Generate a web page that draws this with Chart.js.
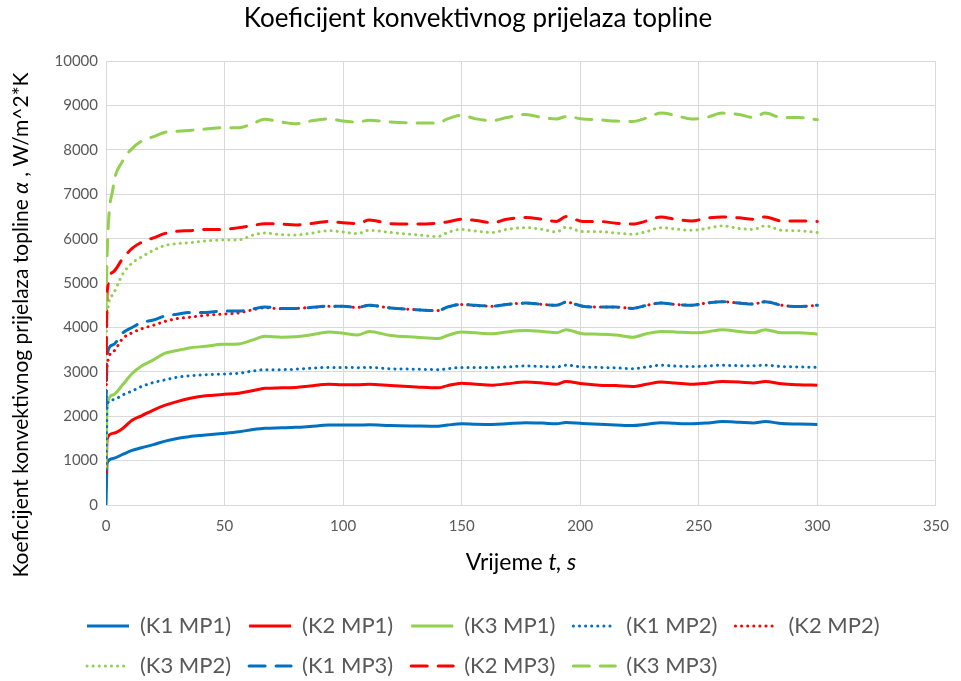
<!DOCTYPE html>
<html>
<head>
<meta charset="utf-8">
<script src="https://cdn.jsdelivr.net/npm/chart.js@4.4.0/dist/chart.umd.min.js"></script>
<style>
  body { margin: 0; background: #fff; }
  #wrap { width: 961px; height: 681px; }
</style>
</head>
<body>
<div id="wrap"><canvas id="alphaChart"></canvas></div>
<script>
// time, s
const time = [0, 0.5, 3, 7, 11, 15, 20, 25, 30, 35, 42, 49, 56, 62, 67, 74, 80, 86, 94, 100,
  106, 111, 120, 131, 140, 144, 150, 156, 163, 169, 177, 184, 190, 194, 201, 208, 215, 222, 228, 234,
  240, 247, 253, 260, 267, 273, 278, 285, 292, 300];

// alpha, W/m^2*K
const k1mp1 = [0, 950, 1050, 1140, 1230, 1290, 1360, 1440, 1500, 1540, 1575, 1610, 1650, 1700, 1730, 1740, 1750, 1770, 1800, 1800,
  1800, 1810, 1790, 1780, 1775, 1800, 1830, 1820, 1815, 1830, 1855, 1845, 1830, 1860, 1835, 1820, 1805, 1790, 1820, 1855,
  1840, 1830, 1845, 1880, 1865, 1850, 1880, 1835, 1825, 1815];
const k2mp1 = [700, 1500, 1615, 1725, 1910, 2010, 2140, 2250, 2330, 2400, 2460, 2490, 2520, 2580, 2630, 2640, 2650, 2680, 2720, 2710,
  2710, 2720, 2690, 2660, 2640, 2690, 2745, 2720, 2700, 2730, 2770, 2750, 2720, 2780, 2730, 2700, 2690, 2670, 2720, 2770,
  2750, 2720, 2740, 2780, 2770, 2750, 2780, 2730, 2710, 2700];
const k3mp1 = [800, 2250, 2480, 2710, 2960, 3130, 3270, 3420, 3480, 3540, 3575, 3620, 3630, 3720, 3800, 3780, 3790, 3830, 3900, 3870,
  3830, 3910, 3820, 3780, 3750, 3820, 3900, 3880, 3860, 3900, 3930, 3910, 3880, 3950, 3860, 3850, 3830, 3780, 3860, 3910,
  3900, 3880, 3900, 3950, 3910, 3880, 3950, 3880, 3880, 3850];
const k1mp2 = [800, 2280, 2370, 2480, 2570, 2670, 2760, 2820, 2880, 2910, 2935, 2950, 2970, 3020, 3050, 3050, 3060, 3080, 3100, 3100,
  3095, 3100, 3070, 3060, 3050, 3070, 3100, 3100, 3100, 3110, 3135, 3120, 3110, 3150, 3110, 3100, 3090, 3070, 3110, 3150,
  3130, 3120, 3130, 3150, 3140, 3140, 3150, 3120, 3110, 3100];
const k2mp2 = [2300, 3160, 3450, 3750, 3880, 3970, 4050, 4140, 4200, 4230, 4275, 4300, 4330, 4400, 4445, 4420, 4430, 4450, 4480, 4480,
  4450, 4500, 4440, 4400, 4380, 4460, 4520, 4490, 4480, 4520, 4550, 4520, 4500, 4570, 4480, 4460, 4460, 4430, 4500, 4550,
  4520, 4500, 4550, 4580, 4550, 4530, 4580, 4500, 4470, 4500];
const k3mp2 = [3500, 4300, 4750, 5200, 5450, 5590, 5740, 5850, 5890, 5910, 5950, 5970, 5975, 6080, 6130, 6090, 6085, 6120, 6180, 6150,
  6115, 6190, 6140, 6090, 6050, 6140, 6210, 6170, 6140, 6210, 6250, 6210, 6150, 6260, 6160, 6160, 6130, 6100, 6160, 6250,
  6220, 6190, 6230, 6290, 6230, 6210, 6290, 6190, 6180, 6140];
const k1mp3 = [2200, 3390, 3610, 3875, 4000, 4110, 4170, 4260, 4300, 4340, 4340, 4370, 4370, 4420, 4460, 4430, 4430, 4450, 4480, 4480,
  4450, 4500, 4440, 4400, 4380, 4460, 4520, 4500, 4480, 4520, 4550, 4520, 4500, 4570, 4480, 4460, 4460, 4430, 4500, 4550,
  4520, 4500, 4550, 4580, 4550, 4530, 4580, 4500, 4470, 4500];
const k2mp3 = [2800, 4800, 5250, 5550, 5780, 5920, 6020, 6120, 6170, 6180, 6210, 6210, 6250, 6300, 6340, 6330, 6310, 6340, 6390, 6360,
  6340, 6420, 6340, 6330, 6350, 6380, 6440, 6410, 6360, 6440, 6480, 6440, 6390, 6500, 6390, 6390, 6350, 6330, 6400, 6490,
  6440, 6400, 6460, 6490, 6470, 6440, 6490, 6400, 6400, 6390];
const k3mp3 = [4400, 5700, 7150, 7750, 8030, 8200, 8300, 8400, 8420, 8440, 8470, 8500, 8500, 8600, 8690, 8630, 8590, 8650, 8700, 8650,
  8630, 8670, 8630, 8610, 8610, 8700, 8780, 8700, 8660, 8730, 8800, 8730, 8700, 8750, 8700, 8680, 8650, 8640, 8720, 8830,
  8780, 8700, 8730, 8830, 8800, 8730, 8830, 8730, 8730, 8680];

const seriesNames = ["(K1 MP1)", "(K2 MP1)", "(K3 MP1)", "(K1 MP2)", "(K2 MP2)", "(K3 MP2)", "(K1 MP3)", "(K2 MP3)", "(K3 MP3)"];
const seriesValues = [k1mp1, k2mp1, k3mp1, k1mp2, k2mp2, k3mp2, k1mp3, k2mp3, k3mp3];

const xTicks = { min: 0, max: 350, step: 50 };
const yTicks = { min: 0, max: 10000, step: 1000 };

const colors = ["#0070C0", "#FF0000", "#92D050"];
const dashes = [[], [0.1, 6], [16, 11]];
const FONT = "Lato";

const datasets = seriesValues.map((vals, i) => ({
  label: seriesNames[i],
  data: time.map((t, j) => ({ x: t, y: vals[j] })),
  borderColor: colors[i % 3],
  backgroundColor: colors[i % 3],
  borderWidth: 3,
  borderDash: dashes[Math.floor(i / 3)],
  borderCapStyle: Math.floor(i / 3) === 0 ? "butt" : "round",
  pointRadius: 0,
  cubicInterpolationMode: "monotone",
  fill: false,
  order: -i
}));

function drawParts(ctx, parts, cx, cy) {
  let total = 0;
  parts.forEach(p => { ctx.font = p.font; total += ctx.measureText(p.text).width; });
  let x = cx - total / 2;
  ctx.textAlign = "left";
  parts.forEach(p => {
    ctx.font = p.font;
    ctx.fillText(p.text, x, cy);
    x += ctx.measureText(p.text).width;
  });
}

// axis titles with italic symbols
const axisTitles = {
  id: "axisTitles",
  afterDraw(chart) {
    const ctx = chart.ctx, area = chart.chartArea;
    ctx.save();
    ctx.fillStyle = "#000";
    ctx.textBaseline = "middle";
    drawParts(ctx, [
      { text: "Vrijeme ", font: `23px ${FONT}` },
      { text: "t, s", font: `italic 23px ${FONT}` }
    ], (area.left + area.right) / 2, 563);
    ctx.translate(21, 325);
    ctx.rotate(-Math.PI / 2);
    drawParts(ctx, [
      { text: "Koeficijent konvektivnog prijelaza topline ", font: `21px ${FONT}` },
      { text: "α", font: `italic 21px ${FONT}` },
      { text: " , W/m^2*K", font: `21px ${FONT}` }
    ], 0, 0);
    ctx.restore();
  }
};

// legend rows left aligned under the plot
const legendShift = {
  id: "legendShift",
  afterLayout(chart) {
    chart.legend.left = 69;
    chart.legend.top = 597;
  }
};

const defaultLabels = Chart.defaults.plugins.legend.labels.generateLabels;

new Chart(document.getElementById("alphaChart"), {
  type: "line",
  data: { datasets: datasets },
  plugins: [axisTitles, legendShift],
  options: {
    responsive: true,
    maintainAspectRatio: false,
    animation: false,
    layout: { padding: { left: 8, right: 13, top: 0, bottom: 0 } },
    plugins: {
      title: {
        display: true,
        text: "Koeficijent konvektivnog prijelaza topline",
        color: "#000",
        font: { family: FONT, size: 26, weight: "normal" },
        padding: { top: 3, bottom: 27 }
      },
      legend: {
        position: "bottom",
        align: "start",
        labels: {
          usePointStyle: true,
          pointStyle: "line",
          pointStyleWidth: 42,
          padding: 18,
          color: "#595959",
          font: { family: FONT, size: 22 },
          sort: (a, b) => a.datasetIndex - b.datasetIndex,
          generateLabels(chart) {
            return defaultLabels(chart).map(item => {
              const ds = chart.data.datasets[item.datasetIndex];
              item.lineDash = ds.borderDash;
              item.lineCap = ds.borderCapStyle;
              item.lineWidth = ds.borderWidth;
              item.strokeStyle = ds.borderColor;
              return item;
            });
          }
        }
      },
      tooltip: { enabled: false }
    },
    scales: {
      x: {
        type: "linear",
        min: xTicks.min,
        max: xTicks.max,
        ticks: { stepSize: xTicks.step, color: "#595959", font: { family: FONT, size: 15 }, padding: 12,
          callback: v => String(v) },
        grid: { color: "#d9d9d9", lineWidth: 1, drawTicks: false },
        border: { color: "#d9d9d9" },
        afterFit(scale) { scale.height = 86; }
      },
      y: {
        min: yTicks.min,
        max: yTicks.max,
        ticks: { stepSize: yTicks.step, color: "#595959", font: { family: FONT, size: 15 }, padding: 8,
          callback: v => String(v) },
        grid: { color: "#d9d9d9", lineWidth: 1, drawTicks: false },
        border: { color: "#d9d9d9" },
        afterFit(scale) { scale.width = 98; }
      }
    }
  }
});
</script>
</body>
</html>
